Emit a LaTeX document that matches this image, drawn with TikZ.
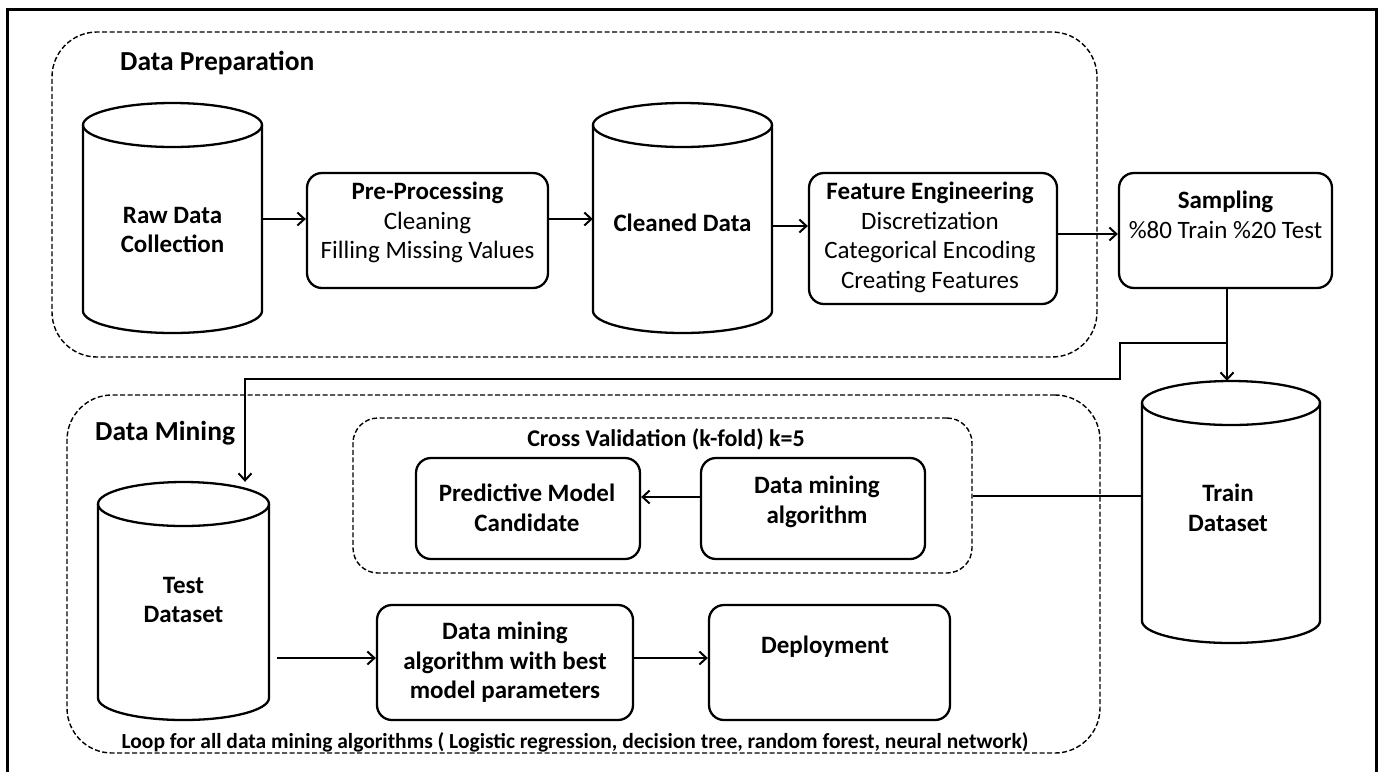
\documentclass[tikz,border=0pt]{standalone}
\usepackage{fontspec}
\setmainfont{Carlito}
\usetikzlibrary{arrows.meta,calc}
\newcommand{\mycyl}[5]{% name, xl, xr, yt, yb
  \pgfmathsetmacro{\cx}{(#2+#3)/2}\pgfmathsetmacro{\rx}{(#3-#2)/2}
  \draw[cylline] (#2,#4+22) -- (#2,#5-22) arc[start angle=180,end angle=360,x radius=\rx pt,y radius=22pt] -- (#3,#4+22);
  \draw[cylline] (\cx,#4+22) ellipse[x radius=\rx pt,y radius=22pt];
  \node[inner sep=0pt,minimum width=(#3-#2)*1pt,minimum height=(#5-#4)*1pt] (#1) at (\cx,{(#4+#5)/2}) {};
}
\begin{document}
\begin{tikzpicture}[x=1pt,y=-1pt,
  box/.style={draw,line width=2.3pt,rounded corners=15pt,inner sep=0pt},
  cylline/.style={line width=2.3pt},
  grp/.style={draw,line width=1.4pt,dash pattern=on 5pt off 2.5pt,inner sep=0pt},
  arr/.style={line width=2pt,-{Straight Barb[length=7pt,width=13pt,line width=2pt]}},
  conn/.style={line width=2pt},
  txt/.style={align=center,inner sep=0pt,font=\fontsize{25}{29.5}\selectfont},
  btxt/.style={align=center,inner sep=0pt,font=\fontsize{25}{29.5}\selectfont\bfseries},
  ttl/.style={inner sep=0pt,anchor=west,font=\fontsize{27.5}{31}\selectfont\bfseries}]
\useasboundingbox (0,0) rectangle (1383,772);
% frame
\draw[line width=2.5pt] (7.5,772) -- (7.5,9.5) -- (1376.5,9.5) -- (1376.5,772);
% containers
\node[grp,rounded corners=45pt,minimum width=1045pt,minimum height=325pt] (prep) at (574.5,194.5) {};
\node[grp,rounded corners=45pt,minimum width=1033pt,minimum height=358pt] (mine) at (583.5,574) {};
\node[grp,rounded corners=25pt,minimum width=619pt,minimum height=155pt] (cv) at (662.5,495.5) {};
\node[ttl] (tprep) at (120,63) {Data Preparation};
\node[ttl] (tmine) at (95,433) {Data Mining};
\node[btxt,font=\fontsize{24}{28}\selectfont\bfseries] (tcv) at (666,439) {Cross Validation (k-fold) k=5};
% cylinders
\mycyl{raw}{83}{262}{103}{333}
\mycyl{clean}{593}{772}{103}{333}
\mycyl{train}{1142}{1320}{381}{643}
\mycyl{test}{98}{269}{482}{720}
\node[btxt] (rawt) at (172.5,230) {Raw Data\\Collection};
\node[btxt] (cleant) at (682.5,223) {Cleaned Data};
\node[btxt] (traint) at (1228,508) {Train\\Dataset};
\node[btxt] (testt) at (183.5,600) {Test\\Dataset};
% boxes
\node[box,minimum width=241pt,minimum height=115pt] (pp) at (427.5,230.5) {};
\node[box,minimum width=248pt,minimum height=131pt] (fe) at (933,238.5) {};
\node[box,minimum width=213pt,minimum height=115pt] (samp) at (1225.5,230.5) {};
\node[box,minimum width=224pt,minimum height=101pt] (pmc) at (528,508.5) {};
\node[box,minimum width=224pt,minimum height=101pt] (dma) at (813,508.5) {};
\node[box,minimum width=256pt,minimum height=115pt] (dmb) at (505,662.5) {};
\node[box,minimum width=241pt,minimum height=115pt] (dep) at (829.5,662.5) {};
\node[txt] (ppt) at (427.5,222.5) {\textbf{Pre-Processing}\\Cleaning\\Filling Missing Values};
\node[txt] (fet) at (930,237.5) {\textbf{Feature Engineering}\\Discretization\\Categorical Encoding\\Creating Features};
\node[txt] (sampt) at (1225.5,215) {\textbf{Sampling}\\\%80 Train \%20 Test};
\node[btxt] (pmct) at (527,508) {Predictive Model\\Candidate};
\node[btxt] (dmat) at (817,502) {Data mining\\algorithm};
\node[btxt] (dmbt) at (505,662.5) {Data mining\\algorithm with best\\model parameters};
\node[btxt] (dept) at (825,647) {Deployment};
\node[btxt,font=\fontsize{21.5}{24}\selectfont\bfseries] (loop) at (575,742) {Loop for all data mining algorithms ( Logistic regression, decision tree, random forest, neural network)};
% connectors
\draw[arr] (raw.east |- 0,219) -- (pp.west |- 0,219);
\draw[arr] (pp.east |- 0,219) -- (clean.west |- 0,219);
\draw[arr] (clean.east |- 0,226) -- (fe.west |- 0,226);
\draw[arr] (fe.east |- 0,234) -- (samp.west |- 0,234);
\draw[arr] (samp.south -| 1227,0) -- (train.north -| 1227,0);
\coordinate (j) at (1227,343);
\draw[arr] (j) -- (1120,343) -- (1120,379) -- (245,379) -- (test.north -| 245,0);
\draw[conn] (train.west |- cv.east) -- (cv.east);
\draw[arr] (dma.west |- 0,497) -- (pmc.east |- 0,497);
\draw[arr] (test.east |- 0,658) ++(8,0) -- (dmb.west |- 0,658);
\draw[arr] (dmb.east |- 0,658) -- (dep.west |- 0,658);
\end{tikzpicture}
\end{document}
